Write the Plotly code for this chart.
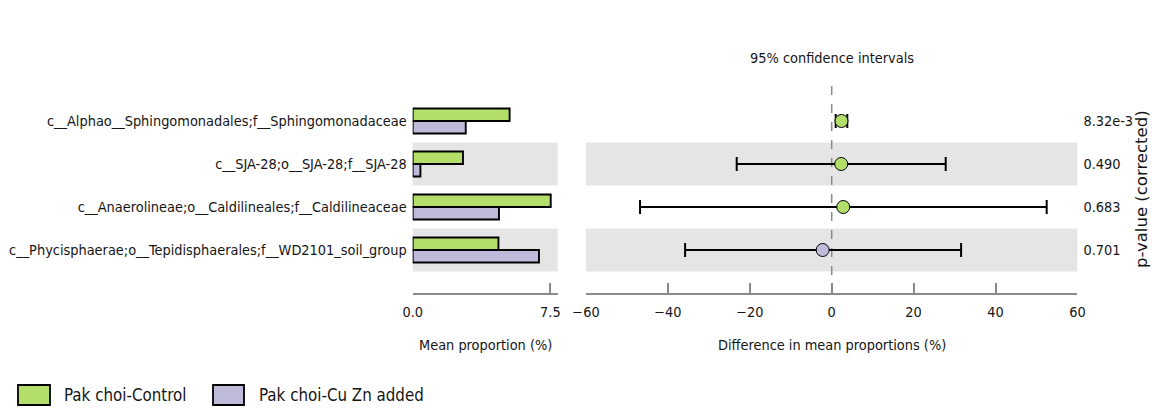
import plotly.graph_objects as go

# Taxa (top to bottom) and their statistics
taxa = [
    "c__Alphao__Sphingomonadales;f__Sphingomonadaceae",
    "c__SJA-28;o__SJA-28;f__SJA-28",
    "c__Anaerolineae;o__Caldilineales;f__Caldilineaceae",
    "c__Phycisphaerae;o__Tepidisphaerales;f__WD2101_soil_group",
]
mean_control = [5.28, 2.74, 7.52, 4.67]      # Pak choi-Control, %
mean_cuzn = [2.89, 0.42, 4.70, 6.88]         # Pak choi-Cu Zn added, %
diff_mean = [2.39, 2.32, 2.82, -2.21]        # difference in mean proportions, %
ci_lower = [0.98, -23.2, -46.8, -35.8]
ci_upper = [3.81, 27.84, 52.5, 31.6]
p_values = ["8.32e-3", "0.490", "0.683", "0.701"]
group_names = ["Pak choi-Control", "Pak choi-Cu Zn added"]

GREEN = "#b3de69"
PURPLE = "#bebada"
BAND = "#e5e5e5"
AXIS = "#8a8a8a"
TXT = "#151515"
FONT = "DejaVu Sans Condensed, DejaVu Sans, sans-serif"
FS = 14.4

W, H = 1152, 408
rows = list(range(len(taxa)))

def px_x(p):
    return p / W

def px_y(p):
    return 1 - p / H

y_dom = [px_y(293), px_y(81)]
x1_dom = [px_x(412.7), px_x(557.7)]
x2_dom = [px_x(586), px_x(1077.4)]
y_range = [4.0, -0.93]

fig = go.Figure()

bar_w = 0.29
fig.add_trace(go.Bar(
    y=rows, x=mean_control, orientation="h", width=bar_w, offset=-bar_w,
    marker=dict(color=GREEN, line=dict(color="black", width=1.9)),
    xaxis="x", yaxis="y", name=group_names[0], showlegend=False,
))
fig.add_trace(go.Bar(
    y=rows, x=mean_cuzn, orientation="h", width=bar_w, offset=0.0,
    marker=dict(color=PURPLE, line=dict(color="black", width=1.9)),
    xaxis="x", yaxis="y", name=group_names[1], showlegend=False,
))

point_colors = [GREEN if d > 0 else PURPLE for d in diff_mean]
fig.add_trace(go.Scatter(
    x=diff_mean, y=rows, mode="markers",
    marker=dict(size=13, color=point_colors, line=dict(color="black", width=1)),
    error_x=dict(
        type="data", symmetric=False,
        array=[u - d for u, d in zip(ci_upper, diff_mean)],
        arrayminus=[d - l for d, l in zip(diff_mean, ci_lower)],
        color="black", thickness=2, width=7,
    ),
    xaxis="x2", yaxis="y2", showlegend=False,
))

# Alternating row shading in both panels
shapes = []
for i in rows:
    if i % 2 == 1:
        for xr in ("x domain", "x2 domain"):
            shapes.append(dict(
                type="rect", xref=xr, yref="y", x0=0, x1=1, y0=i - 0.5, y1=i + 0.5,
                fillcolor=BAND, line=dict(width=0), layer="below",
            ))
# Zero reference line
shapes.append(dict(
    type="line", xref="x2", yref="y2 domain", x0=0, x1=0, y0=0, y1=1,
    line=dict(color=AXIS, width=1.5, dash="dash"), layer="below",
))

# Legend patches
legend_items = [(18, 50, GREEN, 62, group_names[0]), (213, 244, PURPLE, 257, group_names[1])]
annotations = []
for x0, x1, col, tx, name in legend_items:
    shapes.append(dict(
        type="rect", xref="paper", yref="paper",
        x0=px_x(x0), x1=px_x(x1), y0=px_y(405), y1=px_y(385),
        fillcolor=col, line=dict(color="black", width=1.8),
    ))
    annotations.append(dict(
        xref="paper", yref="paper", x=px_x(tx), y=px_y(395), text=name,
        showarrow=False, xanchor="left", yanchor="middle",
        font=dict(size=16.8, color=TXT),
    ))

annotations += [
    dict(xref="paper", yref="paper", x=px_x(832), y=px_y(58), text="95% confidence intervals",
         showarrow=False, xanchor="center", yanchor="middle", font=dict(size=FS, color=TXT)),
    dict(xref="paper", yref="paper", x=px_x(485), y=px_y(345), text="Mean proportion (%)",
         showarrow=False, xanchor="center", yanchor="middle", font=dict(size=FS, color=TXT)),
    dict(xref="paper", yref="paper", x=px_x(832), y=px_y(345), text="Difference in mean proportions (%)",
         showarrow=False, xanchor="center", yanchor="middle", font=dict(size=FS, color=TXT)),
    dict(xref="paper", yref="paper", x=px_x(1141), y=px_y(189), text="p-value (corrected)",
         showarrow=False, xanchor="center", yanchor="middle", textangle=-90,
         font=dict(size=16.5, color=TXT, family="DejaVu Sans, sans-serif")),
]

diff_ticks = [-60, -40, -20, 0, 20, 40, 60]

common_x = dict(
    ticks="inside", ticklen=10, tickcolor=AXIS, tickwidth=1.5,
    showline=True, linecolor=AXIS, linewidth=1.5,
    showgrid=False, zeroline=False, ticklabelstandoff=5, automargin=False,
    tickfont=dict(size=FS, color=TXT),
)
common_y = dict(
    range=y_range, domain=y_dom, tickvals=rows, ticks="",
    showline=False, showgrid=False, zeroline=False, ticklabelstandoff=5,
    automargin=False, tickfont=dict(size=FS, color=TXT),
)

fig.update_layout(
    width=W, height=H,
    margin=dict(l=0, r=0, t=0, b=0, autoexpand=False),
    paper_bgcolor="white", plot_bgcolor="rgba(0,0,0,0)",
    font=dict(family=FONT, size=FS, color=TXT),
    barmode="overlay",
    shapes=shapes, annotations=annotations,
    xaxis=dict(domain=x1_dom, range=[0, 7.9], anchor="y",
               tickvals=[0, 7.5], ticktext=["0.0", "7.5"], **common_x),
    yaxis=dict(anchor="x", ticktext=taxa, **common_y),
    xaxis2=dict(domain=x2_dom, range=[-60, 60], anchor="y2", tickvals=diff_ticks,
                ticktext=[str(t).replace("-", "\u2212") for t in diff_ticks], **common_x),
    yaxis2=dict(anchor="x2", side="right", ticktext=p_values, **common_y),
)

fig.write_html("out.html")
